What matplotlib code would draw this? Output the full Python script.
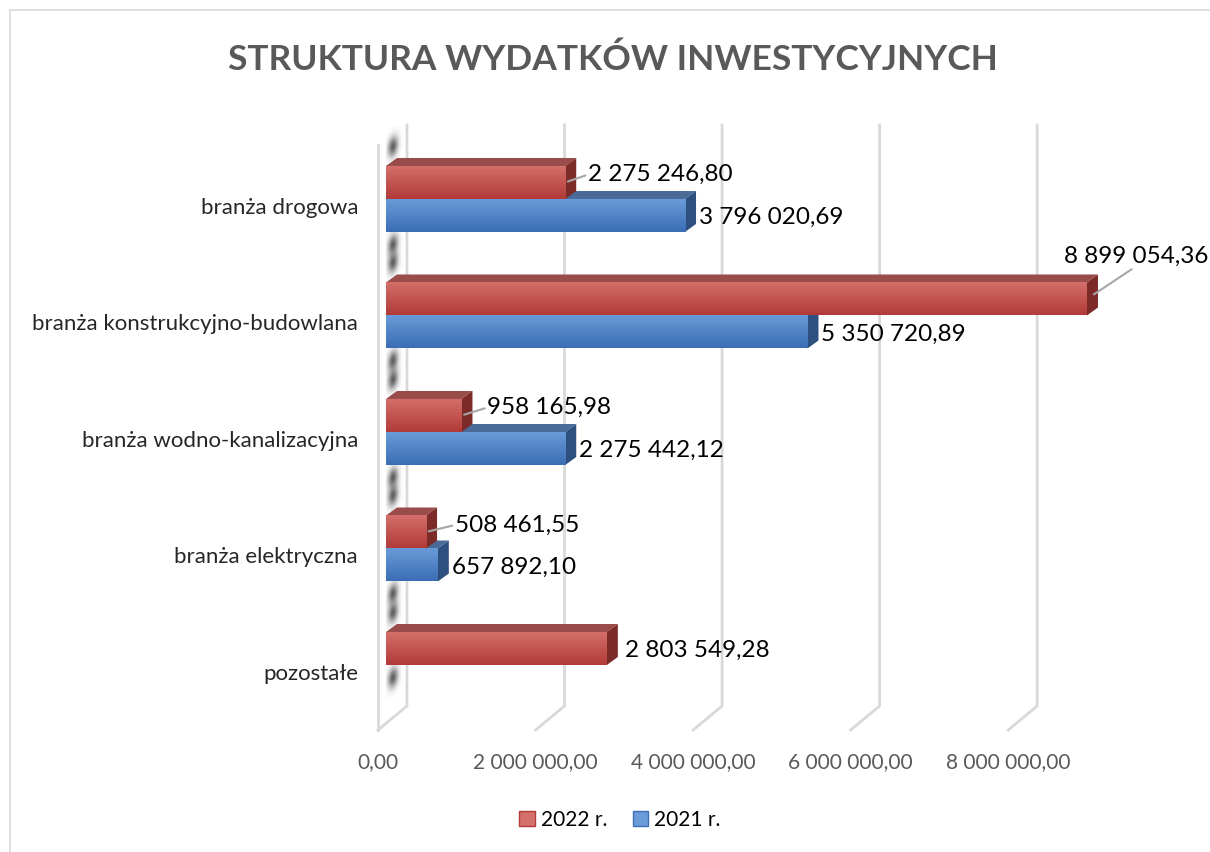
import numpy as np
import matplotlib.pyplot as plt
import matplotlib.transforms as mtransforms
from matplotlib.patches import Polygon, Patch, Rectangle

plt.rcParams['font.family'] = ['Lato', 'DejaVu Sans']

# data
categories = ['branża drogowa', 'branża konstrukcyjno-budowlana', 'branża wodno-kanalizacyjna',
              'branża elektryczna', 'pozostałe']
values_2022 = [2275246.80, 8899054.36, 958165.98, 508461.55, 2803549.28]
values_2021 = [3796020.69, 5350720.89, 2275442.12, 657892.10, None]
series_names = ['2022 r.', '2021 r.']
ticks = [0, 2e6, 4e6, 6e6, 8e6]


def fmt(v):
    s = f'{v:,.2f}'
    return s.replace(',', ' ').replace('.', ',')


W, H = 1210, 852
fig = plt.figure(figsize=(W / 100, H / 100), dpi=100)
ax = fig.add_axes([386 / W, (H - 730) / H, 787.7 / W, 605 / H])
ax.set_xlim(0, 1e7)
ax.set_ylim(4.558, -0.635)
ax.axis('off')

ID = mtransforms.IdentityTransform()
U = 1 / 116.5           # one pixel in category units
h = 33 * U              # bar thickness
DX, DY = 11, 8          # bar depth (pixels)
GB, GF = 21, -8         # back wall / front floor offsets (pixels)


def px(x, y, dx=0, dy=0):
    X, Y = ax.transData.transform((x, y))
    return X + dx, Y + dy


# border of the chart area
fig.add_artist(Rectangle((10 / W, -0.1), 1.2, 1 - 10 / H + 0.1, transform=fig.transFigure,
                         fill=False, edgecolor='#d9d9d9', lw=1.2))

# walls and gridlines
y_back = (706 - 199) * U
ylo, yhi = ax.get_ylim()
for t in ticks:
    top = px(t, yhi, GB)
    back = px(t, y_back, GB)
    front = px(t, ylo, GF)
    ax.plot([top[0], back[0], front[0]], [top[1], back[1], front[1]], color='#d9d9d9',
            lw=2, transform=ID, clip_on=False, zorder=1)
    ax.annotate(fmt(t), xy=(t, ylo), xytext=(GF, -32), textcoords='offset pixels',
                ha='center', va='center', fontsize=15, color='#595959', annotation_clip=False)
# front edge of the left wall
a = px(0, ylo, GF)
b = px(0, yhi + 20 * U, GF)
ax.plot([a[0], b[0]], [a[1], b[1]], color='#d9d9d9', lw=2, transform=ID, clip_on=False, zorder=1)

# shadows of the bars on the left wall
yy = np.linspace(-1, 1, 60)[:, None]
xx = np.linspace(-1, 1, 40)[None, :]
blob = np.zeros((60, 40, 4))
blob[..., :3] = 0.22
blob[..., 3] = 0.8 * np.exp(-((xx + 0.2 * yy) / 0.38) ** 2 - (yy / 0.5) ** 2)
bx0 = ax.transData.inverted().transform((px(0, 0)[0] - 6, 0))[0]
bx1 = ax.transData.inverted().transform((px(0, 0)[0] + 20, 0))[0]
for i in range(len(categories)):
    top_edge = i - h - 8 * U
    bottom_edge = i + (h if values_2021[i] is not None else 0)
    for cy in (top_edge - 11 * U, bottom_edge + 13 * U):
        ax.imshow(blob, extent=(bx0, bx1, cy + 20 * U, cy - 20 * U), aspect='auto',
                  zorder=1.5, interpolation='bilinear')

# bars
styles = [
    dict(top=(0.83, 0.44, 0.42), bot=(0.70, 0.23, 0.22), lid='#9a4c4a', side='#7d2b29'),
    dict(top=(0.42, 0.61, 0.85), bot=(0.23, 0.43, 0.71), lid='#4a6a98', side='#2e5080'),
]
grad_t = np.linspace(0, 1, 50)[:, None, None]


def draw_bar(v, y0, st, z):
    y1 = y0 + h
    p1, p2 = px(0, y0), px(v, y0)
    p3 = px(v, y1)
    lid = Polygon([p1, p2, (p2[0] + DX, p2[1] + DY), (p1[0] + DX, p1[1] + DY)],
                  closed=True, transform=ID, facecolor=st['lid'], edgecolor='none', zorder=z)
    side = Polygon([p2, p3, (p3[0] + DX, p3[1] + DY), (p2[0] + DX, p2[1] + DY)],
                   closed=True, transform=ID, facecolor=st['side'], edgecolor='none', zorder=z)
    ax.add_patch(lid)
    ax.add_patch(side)
    bar = ax.barh(y0 + h / 2, v, height=h, color=st['bot'], zorder=z)[0]
    img = (1 - grad_t) * np.array(st['top']) + grad_t * np.array(st['bot'])
    img = np.repeat(img, 2, axis=1)
    im = ax.imshow(img, extent=(0, v, y1, y0), aspect='auto', zorder=z + 0.1,
                   interpolation='bilinear')
    im.set_clip_path(bar)


for i in range(len(categories)):
    if values_2021[i] is not None:
        draw_bar(values_2021[i], i, styles[1], 2 + i)
    draw_bar(values_2022[i], i - h, styles[0], 2.5 + i)

ax.set_xlim(0, 1e7)
ax.set_ylim(4.558, -0.635)

# category labels
for i, c in enumerate(categories):
    ax.annotate(c, xy=(0, i), xytext=(-28, -9), textcoords='offset pixels', ha='right',
                va='center', fontsize=16, color='#262626', annotation_clip=False)

# data labels (offset of label's left edge from bar end, in pixels)
red_offsets = [(23, 8), (0, 0), (26, 8), (29, 7), (18, -2)]
lead = dict(arrowstyle='-', color='#a6a6a6', lw=1.5, shrinkA=0, shrinkB=2, relpos=(0, 0.5))
for i, v in enumerate(values_2022):
    yc = i - h / 2
    if i == 1:
        ax.annotate(fmt(v), xy=(v, yc), xytext=(W - 2 - px(v, yc)[0], 43),
                    textcoords='offset pixels', ha='right', va='center', fontsize=17.5,
                    arrowprops=dict(lead, relpos=(0.5, 0), shrinkB=6), annotation_clip=False,
                    zorder=20)
    else:
        dx, dy = red_offsets[i]
        ax.annotate(fmt(v), xy=(v, yc), xytext=(dx, dy), textcoords='offset pixels',
                    ha='left', va='center', fontsize=17.5,
                    arrowprops=lead if dy > 2 else None, annotation_clip=False, zorder=20)
for i, v in enumerate(values_2021):
    if v is None:
        continue
    ax.annotate(fmt(v), xy=(v, i + h / 2), xytext=(14, -2), textcoords='offset pixels',
                ha='left', va='center', fontsize=17.5, annotation_clip=False, zorder=20)

# title
fig.text(613 / W, 1 - 60 / H, 'STRUKTURA WYDATKÓW INWESTYCYJNYCH', ha='center', va='center',
         fontsize=25.5, weight='bold', color='#595959')

# legend
handles = [Patch(facecolor=styles[0]['top'], edgecolor=styles[0]['bot']),
           Patch(facecolor=styles[1]['top'], edgecolor=styles[1]['bot'])]
fig.legend(handles, series_names, loc='center', bbox_to_anchor=(620 / W, 1 - 820 / H), ncol=2,
           frameon=False, fontsize=15, handlelength=0.75, handleheight=0.75, handletextpad=0.3,
           columnspacing=1.2)

fig.savefig('out.png', dpi=100)
